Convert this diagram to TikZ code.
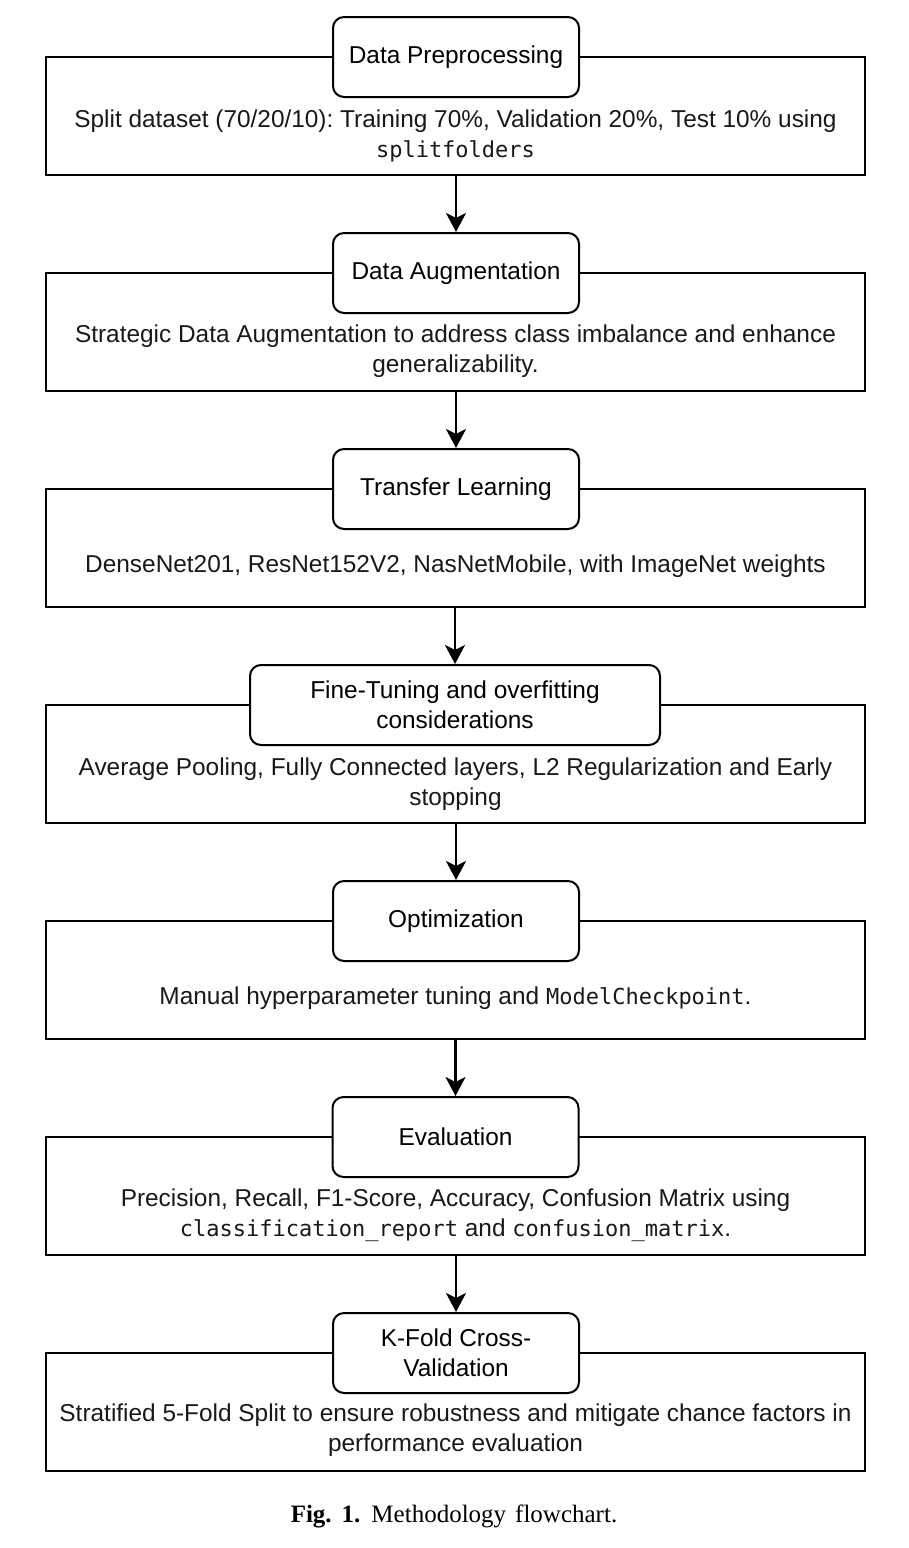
\documentclass[tikz,border=0pt]{standalone}
\usepackage{fontspec}
\setmainfont{Liberation Sans}
\setmonofont{DejaVu Sans Mono}
\newfontfamily\capfont{Liberation Serif}
\usetikzlibrary{arrows.meta}
\frenchspacing
\newcommand\codetxt[1]{{\fontsize{22}{29.5}\selectfont\ttfamily #1}}
\tikzset{
  bigbox/.style={draw=black, line width=2pt, fill=white, minimum width=819pt, minimum height=118pt, inner sep=0pt},
  headbox/.style={draw=black, line width=2pt, fill=white, rounded corners=11pt, minimum width=246pt, minimum height=80pt, inner sep=0pt, align=center, font=\fontsize{24.4}{29.5}\selectfont},
  bodytxt/.style={align=center, inner sep=0pt, font=\fontsize{24.4}{29.5}\selectfont, text=black!90},
  flow/.style={draw=black, line width=2.2pt, -{Stealth[length=19pt,width=20pt,inset=5pt]}},
}
\begin{document}
\begin{tikzpicture}[x=1pt,y=-1pt]
\useasboundingbox (0,0) rectangle (908,1548);
\fill[white] (0,0) rectangle (908,1548);
% block 1
\node[bigbox] (b1) at (455.5,116) {};
\node[headbox] (h1) at (456,57) {Data Preprocessing};
\node[bodytxt] (t1) at (455.5,136) {Split dataset (70/20/10): Training 70\%, Validation 20\%, Test 10\% using\\\codetxt{splitfolders}};
% block 2
\node[bigbox] (b2) at (455.5,332) {};
\node[headbox] (h2) at (456,273) {Data Augmentation};
\node[bodytxt] (t2) at (455.5,351) {Strategic Data Augmentation to address class imbalance and enhance\\generalizability.};
% block 3
\node[bigbox] (b3) at (455.5,548) {};
\node[headbox] (h3) at (456,489) {Transfer Learning};
\node[bodytxt] (t3) at (455.5,566) {DenseNet201, ResNet152V2, NasNetMobile, with ImageNet weights};
% block 4
\node[bigbox] (b4) at (455.5,764) {};
\node[headbox, minimum width=410pt] (h4) at (455,705) {Fine-Tuning and overfitting\\considerations};
\node[bodytxt] (t4) at (455.5,784) {Average Pooling, Fully Connected layers, L2 Regularization and Early\\stopping};
% block 5
\node[bigbox] (b5) at (455.5,980) {};
\node[headbox] (h5) at (456,921) {Optimization};
\node[bodytxt] (t5) at (455.5,998) {Manual hyperparameter tuning and \codetxt{ModelCheckpoint}.};
% block 6
\node[bigbox] (b6) at (455.5,1196) {};
\node[headbox] (h6) at (455.5,1137) {Evaluation};
\node[bodytxt] (t6) at (455.5,1215) {Precision, Recall, F1-Score, Accuracy, Confusion Matrix using\\\codetxt{classification\_report} and \codetxt{confusion\_matrix}.};
% block 7
\node[bigbox] (b7) at (455.5,1412) {};
\node[headbox] (h7) at (456,1353) {K-Fold Cross-\\Validation};
\node[bodytxt] (t7) at (455.5,1430) {Stratified 5-Fold Split to ensure robustness and mitigate chance factors in\\performance evaluation};
% arrows
\draw[flow] (b1.south -| h2.north) -- (h2.north);
\draw[flow] (b2.south -| h3.north) -- (h3.north);
\draw[flow] (b3.south -| h4.north) -- (h4.north);
\draw[flow] (b4.south -| h5.north) -- (h5.north);
\draw[flow] (b5.south -| h6.north) -- (h6.north);
\draw[flow] (b6.south -| h7.north) -- (h7.north);
% caption
\node[inner sep=0pt, anchor=base, font=\capfont\fontsize{25}{30}\selectfont] (cap) at (454,1522) {{\bfseries Fig.\hspace{10pt}1.}\hspace{11pt}Methodology\hspace{9pt}flowchart.};
\end{tikzpicture}
\end{document}
